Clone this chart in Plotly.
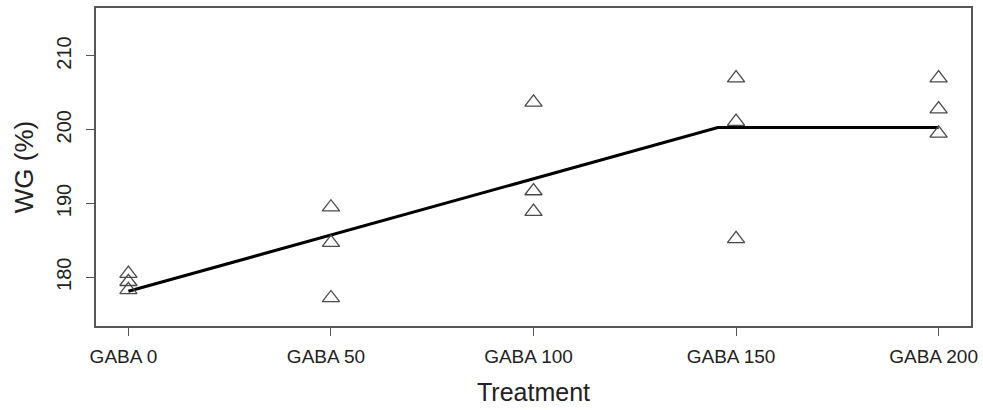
import plotly.graph_objects as go

# Data
dose_levels = [0, 50, 100, 150, 200]
tick_labels = ["GABA 0", "GABA 50", "GABA 100", "GABA 150", "GABA 200"]

obs_x = [0, 0, 0, 50, 50, 50, 100, 100, 100, 150, 150, 150, 200, 200, 200]
obs_wg = [180.5, 179.4, 178.3,
          189.5, 184.7, 177.2,
          203.7, 191.7, 188.9,
          207.0, 201.1, 185.2,
          207.0, 202.8, 199.5]

# broken-line regression fit
fit_x = [0, 145.5, 200]
fit_wg = [178.1, 200.3, 200.3]

font_family = "Liberation Sans, Arial, sans-serif"

fig = go.Figure()
fig.add_trace(go.Scatter(
    x=fit_x, y=fit_wg, mode="lines",
    line=dict(color="black", width=3),
    showlegend=False, hoverinfo="skip"))
fig.add_trace(go.Scatter(
    x=obs_x, y=obs_wg, mode="markers",
    marker=dict(symbol="triangle-up-open", size=15, color="#4a4a4a",
                line=dict(width=1.3, color="#4a4a4a")),
    showlegend=False))

fig.update_layout(
    width=983, height=410,
    margin=dict(l=96, r=12, t=8, b=84, autoexpand=False),
    paper_bgcolor="white", plot_bgcolor="white",
    font=dict(family=font_family, color="#222"),
    xaxis=dict(
        range=[-8, 208], tickvals=dose_levels, ticktext=tick_labels,
        ticks="outside", ticklen=8, tickcolor="#555", tickwidth=1,
        ticklabelstandoff=4, ticklabelshift=-5, ticklabeloverflow="allow",
        showline=True, linecolor="#555", linewidth=1.5, mirror=True,
        showgrid=False, zeroline=False, automargin=False,
        tickfont=dict(size=19, family=font_family, color="#222"),
        title=dict(text="Treatment", font=dict(size=25, family=font_family, color="#222"), standoff=18),
    ),
    yaxis=dict(
        range=[173.4, 216.5], tickvals=[180, 190, 200, 210],
        ticks="outside", ticklen=8, tickcolor="#555", tickwidth=1,
        tickangle=-90, ticklabelstandoff=7,
        showline=True, linecolor="#555", linewidth=1.5, mirror=True,
        showgrid=False, zeroline=False, automargin=False,
        tickfont=dict(size=20, family=font_family, color="#222"),
        title=dict(text="WG (%)", font=dict(size=26, family=font_family, color="#222"), standoff=12),
    ),
)

fig.write_html("out.html", config={"displayModeBar": False},
               post_script="document.body.style.margin='0';")
